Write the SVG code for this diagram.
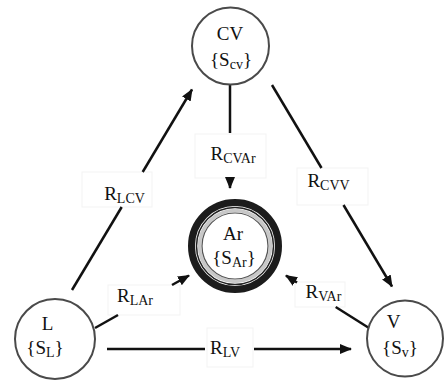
<svg xmlns="http://www.w3.org/2000/svg" width="444" height="383" viewBox="0 0 444 383">
<defs>
<style>
.node{fill:#fff;stroke:#4a4a4a;stroke-width:2}
.t{font-family:"Liberation Serif","Times New Roman",serif;font-size:19px;fill:#111}
.s{font-size:14px}
.ln{stroke:#111;stroke-width:2.5;fill:none}
.arr{marker-end:url(#ah)}
.lbl{fill:#fff;stroke:#f3f3f3;stroke-width:1}
</style>
<marker id="ah" markerUnits="userSpaceOnUse" markerWidth="13" markerHeight="11" refX="11" refY="5" orient="auto">
<path d="M0,0 L12,5 L0,10 z" fill="#111"/>
</marker>
</defs>
<rect width="444" height="383" fill="#fff"/>

<g id="connectors">
<rect class="lbl" x="195" y="134" width="71" height="44"/>
<rect class="lbl" x="82" y="172" width="70" height="35"/>
<rect class="lbl" x="297" y="168" width="71" height="37"/>
<rect class="lbl" x="108" y="285" width="72" height="30"/>
<rect class="lbl" x="295" y="282" width="50" height="25"/>
<rect class="lbl" x="207" y="328" width="46" height="39"/>

<line class="ln" x1="72" y1="290" x2="121.7" y2="207"/>
<line class="ln arr" x1="142.7" y1="172" x2="192" y2="89.5"/>

<line class="ln" x1="272" y1="85" x2="321.5" y2="168"/>
<line class="ln arr" x1="343.5" y1="205" x2="392" y2="286.5"/>

<line class="ln" x1="230" y1="85" x2="230" y2="133"/>
<line class="ln arr" x1="230" y1="177" x2="230" y2="188"/>

<line class="ln" x1="95" y1="328" x2="118" y2="315"/>
<line class="ln arr" x1="172" y1="285" x2="189" y2="275.5"/>

<line class="ln" x1="369" y1="328" x2="335.7" y2="307"/>
<line class="ln arr" x1="297" y1="282.5" x2="286" y2="275.6"/>

<line class="ln" x1="107" y1="349" x2="205" y2="349"/>
<line class="ln arr" x1="254" y1="349" x2="351" y2="349"/>

<text class="t" x="233" y="160" text-anchor="middle">R<tspan class="s" dy="3">CVAr</tspan></text>
<text class="t" x="124.5" y="200" text-anchor="middle">R<tspan class="s" dy="3">LCV</tspan></text>
<text class="t" x="328.5" y="187" text-anchor="middle">R<tspan class="s" dy="3">CVV</tspan></text>
<text class="t" x="135" y="302" text-anchor="middle">R<tspan class="s" dy="3">LAr</tspan></text>
<text class="t" x="323.5" y="298" text-anchor="middle">R<tspan class="s" dy="3">VAr</tspan></text>
<text class="t" x="225" y="354" text-anchor="middle">R<tspan class="s" dy="3">LV</tspan></text>
</g>

<g id="node-CV">
<circle class="node" cx="230.5" cy="46" r="38.5"/>
<text class="t" x="230" y="40" text-anchor="middle">CV</text>
<text class="t" x="231" y="66" text-anchor="middle">{S<tspan class="s" dy="3">cv</tspan><tspan dy="-3">}</tspan></text>
</g>

<g id="node-L">
<circle class="node" cx="55" cy="339" r="40"/>
<text class="t" x="47.5" y="330" text-anchor="middle">L</text>
<text class="t" x="45" y="354" text-anchor="middle">{S<tspan class="s" dy="3">L</tspan><tspan dy="-3">}</tspan></text>
</g>

<g id="node-V">
<circle class="node" cx="405" cy="338.5" r="38"/>
<text class="t" x="393.5" y="328" text-anchor="middle">V</text>
<text class="t" x="400" y="354" text-anchor="middle">{S<tspan class="s" dy="3">v</tspan><tspan dy="-3">}</tspan></text>
</g>

<g id="node-Ar">
<circle cx="235" cy="246" r="43.5" fill="#fff" stroke="#1c1c1c" stroke-width="7"/>
<circle cx="235" cy="246" r="38.5" fill="none" stroke="#222" stroke-width="1.5"/>
<circle cx="235" cy="246" r="35.5" fill="none" stroke="#c8c8c8" stroke-width="3.5"/>
<circle cx="235" cy="246" r="33" fill="#fff" stroke="#555" stroke-width="1.2"/>
<text class="t" x="233" y="240" text-anchor="middle">Ar</text>
<text class="t" x="234" y="264" text-anchor="middle">{S<tspan class="s" dy="3">Ar</tspan><tspan dy="-3">}</tspan></text>
</g>
</svg>
